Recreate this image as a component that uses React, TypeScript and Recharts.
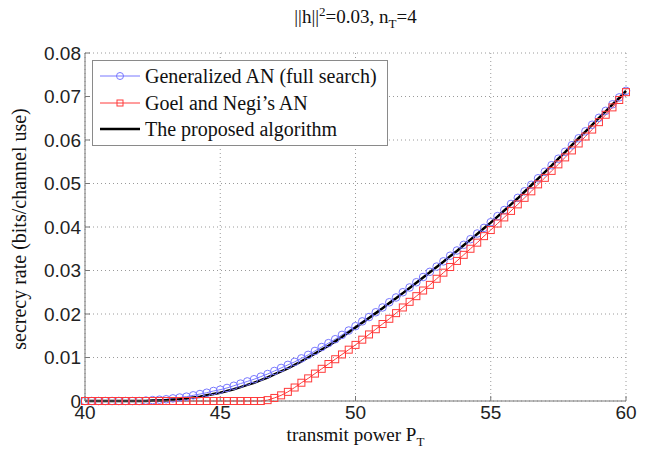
import { CartesianGrid, Legend, Line, LineChart, XAxis, YAxis } from "recharts";

// transmit power P_T (one marker every 0.25)
const power = [
  40, 40.25, 40.5, 40.75, 41, 41.25, 41.5, 41.75, 42, 42.25, 42.5, 42.75, 43, 43.25, 43.5, 43.75,
  44, 44.25, 44.5, 44.75, 45, 45.25, 45.5, 45.75, 46, 46.25, 46.5, 46.75, 47, 47.25, 47.5, 47.75,
  48, 48.25, 48.5, 48.75, 49, 49.25, 49.5, 49.75, 50, 50.25, 50.5, 50.75, 51, 51.25, 51.5, 51.75,
  52, 52.25, 52.5, 52.75, 53, 53.25, 53.5, 53.75, 54, 54.25, 54.5, 54.75, 55, 55.25, 55.5, 55.75,
  56, 56.25, 56.5, 56.75, 57, 57.25, 57.5, 57.75, 58, 58.25, 58.5, 58.75, 59, 59.25, 59.5, 59.75, 60,
];

const generalizedAN = [
  0, 0, 0, 0, 0, 0, 0, 0, 0, 0.0001, 0.0002, 0.0003, 0.0004, 0.0006, 0.0008, 0.001,
  0.0013, 0.0016, 0.0019, 0.0023, 0.0026, 0.003, 0.0035, 0.004, 0.0045, 0.005, 0.0056, 0.0062, 0.0069, 0.0076, 0.0083, 0.009,
  0.0098, 0.0106, 0.0115, 0.0124, 0.0133, 0.0142, 0.0152, 0.0162, 0.0172, 0.0183, 0.0193, 0.0204, 0.0215, 0.0227, 0.0238, 0.025,
  0.0261, 0.0273, 0.0285, 0.0297, 0.0309, 0.0321, 0.0334, 0.0346, 0.0359, 0.0372, 0.0385, 0.0398, 0.0411, 0.0425, 0.0439, 0.0453,
  0.0467, 0.0482, 0.0497, 0.0512, 0.0527, 0.0542, 0.0557, 0.0573, 0.0588, 0.0604, 0.062, 0.0635, 0.0651, 0.0667, 0.0682, 0.0698, 0.0713,
];

const goelNegiAN = [
  0, 0, 0, 0, 0, 0, 0, 0, 0, 0, 0, 0, 0, 0, 0, 0,
  0, 0, 0, 0, 0, 0, 0, 0, 0, 0, 0, 0.0002, 0.0007, 0.0013, 0.0021, 0.0031,
  0.0042, 0.0052, 0.0063, 0.0074, 0.0085, 0.0096, 0.0107, 0.0118, 0.0129, 0.0141, 0.0153, 0.0165, 0.0177, 0.0189, 0.0202, 0.0215,
  0.0228, 0.0241, 0.0254, 0.0267, 0.0281, 0.0295, 0.0308, 0.0322, 0.0336, 0.035, 0.0364, 0.0379, 0.0393, 0.0408, 0.0422, 0.0437,
  0.0452, 0.0467, 0.0482, 0.0498, 0.0513, 0.0529, 0.0544, 0.056, 0.0576, 0.0592, 0.0608, 0.0624, 0.0641, 0.0658, 0.0675, 0.0692, 0.071,
];

const proposed = [
  0, 0, 0, 0, 0, 0, 0, 0, 0, 0, 0.0001, 0.0001, 0.0002, 0.0003, 0.0004, 0.0006,
  0.0008, 0.001, 0.0013, 0.0016, 0.0019, 0.0023, 0.0027, 0.0032, 0.0037, 0.0042, 0.0048, 0.0054, 0.0061, 0.0068, 0.0075, 0.0083,
  0.0091, 0.01, 0.0109, 0.0118, 0.0127, 0.0137, 0.0147, 0.0158, 0.0169, 0.018, 0.0191, 0.0202, 0.0213, 0.0225, 0.0236, 0.0248,
  0.026, 0.0272, 0.0284, 0.0296, 0.0308, 0.032, 0.0333, 0.0345, 0.0358, 0.0371, 0.0384, 0.0397, 0.041, 0.0424, 0.0438, 0.0452,
  0.0466, 0.0481, 0.0496, 0.0511, 0.0526, 0.0541, 0.0557, 0.0572, 0.0588, 0.0604, 0.0619, 0.0635, 0.0651, 0.0666, 0.0682, 0.0697, 0.0713,
];

const xTicks = [40, 45, 50, 55, 60];
const yTicks = [0, 0.01, 0.02, 0.03, 0.04, 0.05, 0.06, 0.07, 0.08];

const BLUE = "#7878ff";
const RED = "#ff3a3a";
const SERIF = "'Liberation Serif', 'Times New Roman', serif";
const SANS = "'Liberation Sans', Arial, sans-serif";

const data = power.map((p, i) => ({
  p,
  gen: generalizedAN[i],
  goel: goelNegiAN[i],
  prop: proposed[i],
}));

function SquareDot(props: any) {
  const { cx, cy, key } = props;
  if (cx == null || cy == null) return null;
  return (
    <rect key={key} x={cx - 3.5} y={cy - 3.5} width={7} height={7} fill="none" stroke={RED} strokeWidth={1} />
  );
}

function LegendBox() {
  const row = (sample: React.ReactNode, label: string) => (
    <div style={{ display: "flex", alignItems: "center", height: 26.5 }}>
      <svg width={44} height={12} style={{ marginRight: 3 }}>{sample}</svg>
      <span>{label}</span>
    </div>
  );
  return (
    <div
      style={{
        background: "#fff",
        border: "1px solid #8a8a8a",
        padding: "2px 8px 2px 5px",
        width: 281,
        fontFamily: SERIF,
        fontSize: 20,
        color: "#111",
        lineHeight: "22px",
      }}
    >
      {row(
        <>
          <line x1={2} y1={6} x2={42} y2={6} stroke={BLUE} strokeWidth={1} />
          <circle cx={22} cy={6} r={3.5} fill="none" stroke={BLUE} />
        </>,
        "Generalized AN (full search)",
      )}
      {row(
        <>
          <line x1={2} y1={6} x2={42} y2={6} stroke={RED} strokeWidth={1} />
          <rect x={19} y={3} width={6} height={6} fill="none" stroke={RED} />
        </>,
        "Goel and Negi\u2019s AN",
      )}
      {row(<line x1={2} y1={6} x2={42} y2={6} stroke="#000" strokeWidth={2.5} />, "The proposed algorithm")}
    </div>
  );
}

export default function App() {
  return (
    <div style={{ position: "absolute", left: 0, top: 0, width: 652, height: 454, background: "#fff" }}>
      <LineChart width={652} height={454} data={data} margin={{ top: 53, right: 26, bottom: 23, left: 0 }}>
        <CartesianGrid stroke="#9a9a9a" strokeDasharray="1 3" />
        <XAxis
          dataKey="p"
          type="number"
          domain={[40, 60]}
          ticks={xTicks}
          height={30}
          stroke="#777"
          tickSize={-5}
          tickMargin={10}
          tick={{ fill: "#222", fontFamily: SANS, fontSize: 19 }}
        />
        <YAxis
          type="number"
          domain={[0, 0.08]}
          ticks={yTicks}
          width={85}
          stroke="#777"
          tickSize={-5}
          tickMargin={9}
          tickFormatter={(v: number) => (v === 0 ? "0" : v.toFixed(2))}
          tick={{ fill: "#222", fontFamily: SANS, fontSize: 19 }}
        />
        <Legend
          layout="vertical"
          align="center"
          verticalAlign="middle"
          wrapperStyle={{ left: 92, top: 60, width: "auto" }}
          content={() => <LegendBox />}
        />
        <Line
          dataKey="gen"
          stroke={BLUE}
          strokeWidth={1}
          dot={{ r: 3.8, fill: "none", stroke: BLUE, strokeWidth: 1 }}
          isAnimationActive={false}
        />
        <Line dataKey="goel" stroke={RED} strokeWidth={1} dot={SquareDot} isAnimationActive={false} />
        <Line dataKey="prop" stroke="#000" strokeWidth={2.5} dot={false} isAnimationActive={false} />
      </LineChart>
      <div
        style={{
          position: "absolute",
          left: 0,
          width: 711,
          top: 4,
          textAlign: "center",
          fontFamily: SERIF,
          fontSize: 19,
          color: "#111",
        }}
      >
        ||h||<sup style={{ fontSize: 13 }}>2</sup>=0.03, n<sub style={{ fontSize: 13 }}>T</sub>=4
      </div>
      <div
        style={{
          position: "absolute",
          left: 0,
          width: 711,
          top: 425,
          textAlign: "center",
          fontFamily: SERIF,
          fontSize: 19,
          lineHeight: "20px",
          color: "#111",
        }}
      >
        transmit power P<sub style={{ fontSize: 13, lineHeight: 0 }}>T</sub>
      </div>
      <div
        style={{
          position: "absolute",
          left: 19,
          top: 229,
          transform: "translate(-50%, -50%) rotate(-90deg)",
          whiteSpace: "nowrap",
          fontFamily: SERIF,
          fontSize: 20,
          color: "#111",
        }}
      >
        secrecy rate (bits/channel use)
      </div>
    </div>
  );
}
